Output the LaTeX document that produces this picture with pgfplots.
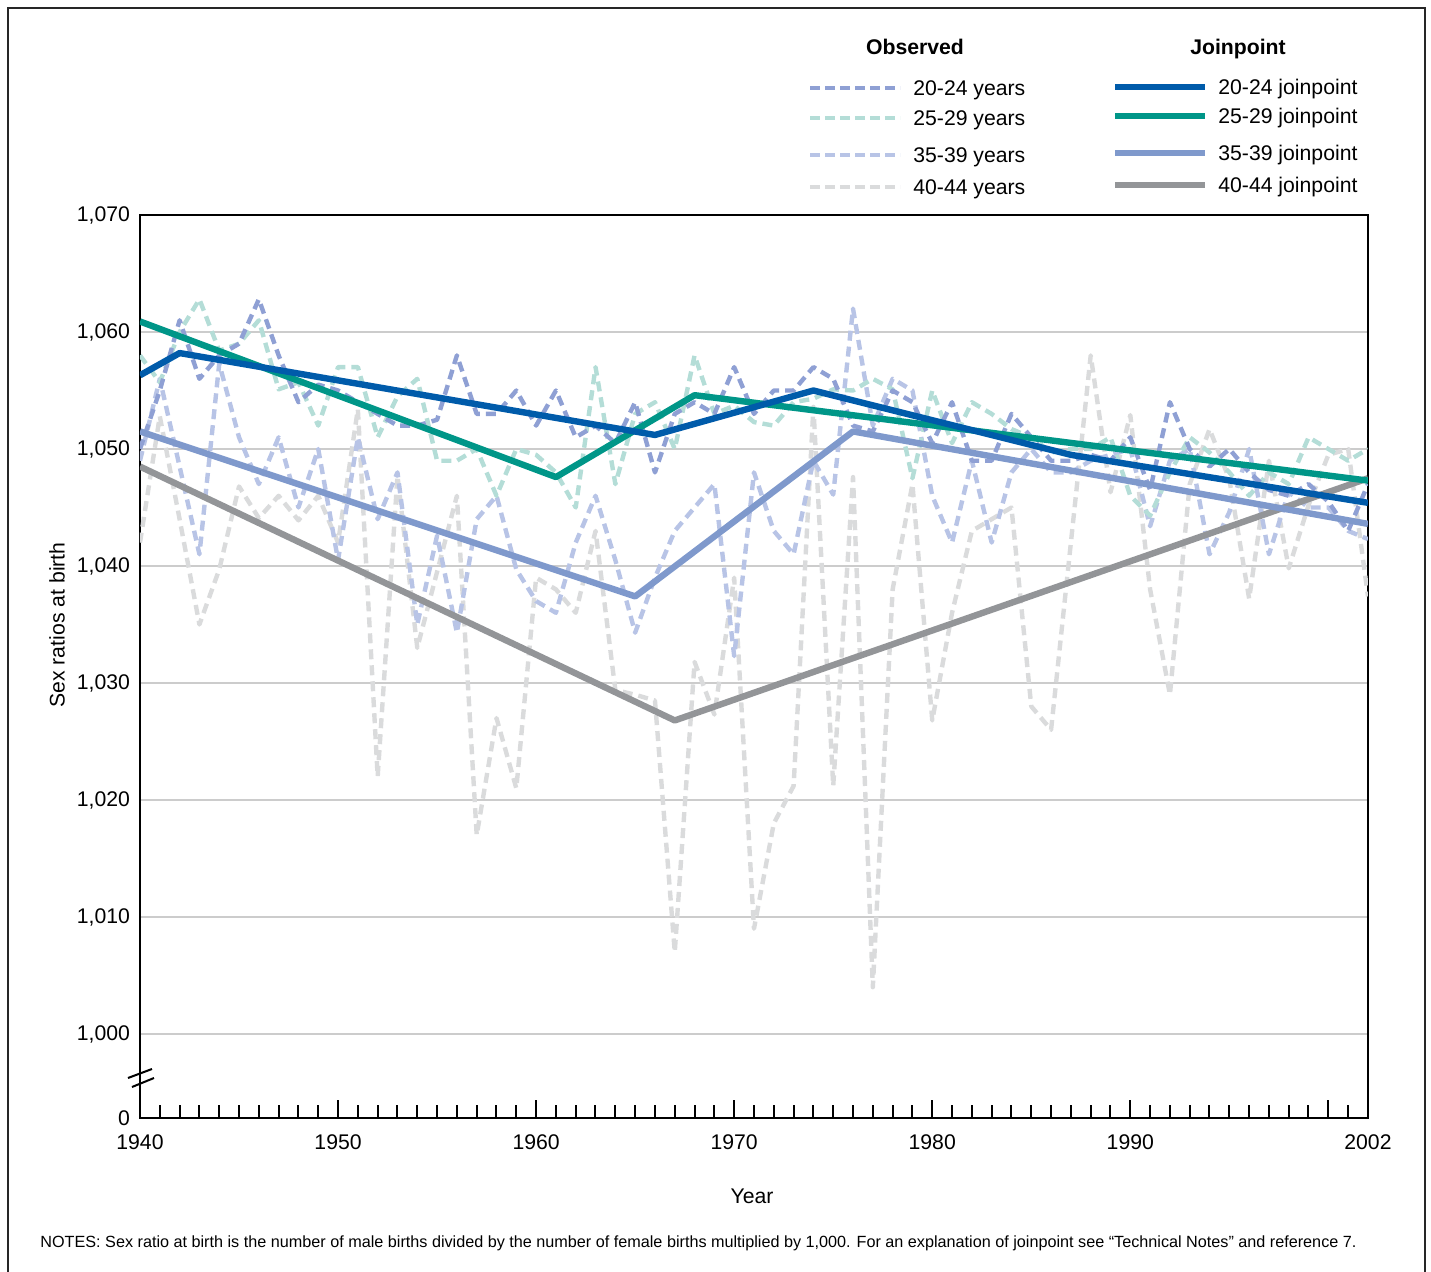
\documentclass[border=0pt]{standalone}
\usepackage{pgfplots}
\pgfplotsset{compat=1.18}
\usepackage{fontspec}
\setmainfont{Liberation Sans}
\definecolor{jA}{RGB}{0,91,170}
\definecolor{jB}{RGB}{0,150,136}
\definecolor{jC}{RGB}{127,153,204}
\definecolor{jD}{RGB}{147,149,152}
\definecolor{oA}{RGB}{143,160,212}
\definecolor{oB}{RGB}{180,221,215}
\definecolor{oC}{RGB}{184,196,230}
\definecolor{oD}{RGB}{218,219,220}
\begin{document}
\begin{tikzpicture}[font=\fontsize{10.6}{12.7}\selectfont]
\useasboundingbox (-70pt,-76.5pt) rectangle (645.5pt,559pt);
\draw[line width=0.8pt, black!85] (-66pt,-90pt) -- (-66pt,555pt) -- (642.5pt,555pt) -- (642.5pt,-90pt);
\begin{axis}[
  scale only axis, width=614pt, height=451.5pt,
  xmin=1940, xmax=2002, ymin=992.82, ymax=1070,
  axis line style={line width=1.2pt, black},
  xtick={1940,1950,1960,1970,1980,1990,2000,2002},
  xticklabels={1940,1950,1960,1970,1980,1990,,2002},
  minor xtick={1941,1942,...,2001},
  xtick pos=left, ytick pos=left,
  tick align=inside,
  major tick length=9pt, minor tick length=6.5pt,
  every tick/.style={black, line width=1pt},
  ytick={1000,1010,...,1070},
  y tick style={draw=none},
  extra y ticks={992.82}, extra y tick labels={0},
  extra y tick style={grid=none, y tick style={draw=none}},
  ymajorgrids, grid style={line width=0.6pt, black!20},
  /pgf/number format/assume math mode=true,
  /pgf/number format/1000 sep={,},
  yticklabel style={xshift=-1.5pt},
  xticklabel style={yshift=-4.7pt},
  every axis plot/.append style={line join=round},
]
% observed 40-44
\addplot[oD, line width=2.2pt, dash pattern=on 5pt off 3pt] coordinates {
(1940,1042)(1941,1052.8)(1942,1044)(1943,1035)(1944,1039.7)(1945,1046.8)(1946,1044.1)(1947,1046)(1948,1043.9)(1949,1046)(1950,1042)(1951,1053.4)(1952,1022)(1953,1047.7)(1954,1033)(1955,1039.5)(1956,1046)(1957,1017)(1958,1027)(1959,1021)(1960,1039)(1961,1038)(1962,1036)(1963,1043)(1964,1029.4)(1965,1029)(1966,1028.5)(1967,1007)(1968,1031.8)(1969,1027.3)(1970,1039)(1971,1009)(1972,1018)(1973,1021.2)(1974,1053.6)(1975,1021.2)(1976,1047.6)(1977,1004)(1978,1038)(1979,1047)(1980,1026.8)(1981,1036)(1982,1043)(1983,1044)(1984,1045)(1985,1028)(1986,1026)(1987,1042)(1988,1058)(1989,1046.3)(1990,1052.9)(1991,1038)(1992,1029)(1993,1047)(1994,1051.7)(1995,1047.4)(1996,1037.2)(1997,1049)(1998,1039.8)(1999,1045.2)(2000,1049.5)(2001,1050)(2002,1037.4)};
% observed 35-39
\addplot[oC, line width=2.2pt, dash pattern=on 5pt off 3pt] coordinates {
(1940,1049)(1941,1056)(1942,1048.5)(1943,1041)(1944,1057.3)(1945,1051)(1946,1047)(1947,1051)(1948,1045)(1949,1050)(1950,1040.5)(1951,1051)(1952,1044)(1953,1048)(1954,1035)(1955,1042.6)(1956,1034.3)(1957,1044)(1958,1046)(1959,1039.7)(1960,1037)(1961,1036)(1962,1042)(1963,1046)(1964,1040.5)(1965,1034.3)(1966,1039)(1967,1043)(1968,1045)(1969,1047)(1970,1032.3)(1971,1048)(1972,1043)(1973,1041)(1974,1049)(1975,1046.1)(1976,1062)(1977,1052)(1978,1056)(1979,1055)(1980,1046)(1981,1042)(1982,1049)(1983,1042)(1984,1048)(1985,1050)(1986,1048)(1987,1048)(1988,1049)(1989,1049.5)(1990,1050)(1991,1043.4)(1992,1049)(1993,1050)(1994,1041)(1995,1044.6)(1996,1050)(1997,1041)(1998,1046.3)(1999,1045)(2000,1045)(2001,1043)(2002,1042.3)};
% observed 25-29
\addplot[oB, line width=2.2pt, dash pattern=on 5pt off 3pt] coordinates {
(1940,1058)(1941,1055.7)(1942,1060)(1943,1062.8)(1944,1058.4)(1945,1059)(1946,1061)(1947,1055.1)(1948,1055.7)(1949,1052)(1950,1057)(1951,1057)(1952,1051)(1953,1054.5)(1954,1056)(1955,1049)(1956,1049)(1957,1050)(1958,1046)(1959,1050)(1960,1049.5)(1961,1048)(1962,1045)(1963,1057)(1964,1047)(1965,1053)(1966,1054)(1967,1050)(1968,1058)(1969,1053)(1970,1053.7)(1971,1052.3)(1972,1052)(1973,1054)(1974,1054.3)(1975,1055.1)(1976,1055)(1977,1056)(1978,1055.1)(1979,1047.5)(1980,1055)(1981,1050.5)(1982,1054)(1983,1053)(1984,1051.7)(1985,1051)(1986,1049.7)(1987,1050)(1988,1050)(1989,1051)(1990,1046)(1991,1044.3)(1992,1048)(1993,1051)(1994,1049.7)(1995,1048)(1996,1046)(1997,1048)(1998,1047)(1999,1051)(2000,1050)(2001,1049)(2002,1050)};
% observed 20-24
\addplot[oA, line width=2.2pt, dash pattern=on 5pt off 3pt] coordinates {
(1940,1050)(1941,1055)(1942,1061)(1943,1056)(1944,1058)(1945,1059)(1946,1062.8)(1947,1058)(1948,1054)(1949,1055.5)(1950,1055)(1951,1054)(1952,1053)(1953,1052)(1954,1052)(1955,1052.5)(1956,1058)(1957,1053)(1958,1053)(1959,1055)(1960,1052)(1961,1055)(1962,1051)(1963,1052)(1964,1050.5)(1965,1054)(1966,1048)(1967,1053)(1968,1054)(1969,1053)(1970,1057)(1971,1053)(1972,1055)(1973,1055)(1974,1057)(1975,1056)(1976,1052)(1977,1051.5)(1978,1055)(1979,1054)(1980,1050.5)(1981,1054)(1982,1049)(1983,1049)(1984,1053)(1985,1051)(1986,1049)(1987,1049)(1988,1049.5)(1989,1049)(1990,1051)(1991,1046.5)(1992,1054)(1993,1050)(1994,1048.5)(1995,1050)(1996,1048)(1997,1046.5)(1998,1046)(1999,1047)(2000,1045.5)(2001,1043)(2002,1047)};
% joinpoints
\addplot[jD, line width=3.2pt] coordinates {(1940,1048.5)(1967,1026.8)(2002,1047.5)};
\addplot[jC, line width=3.2pt] coordinates {(1940,1051.5)(1965,1037.4)(1976,1051.5)(2002,1043.6)};
\addplot[jB, line width=3.2pt] coordinates {(1940,1060.9)(1961,1047.6)(1968,1054.6)(2002,1047.3)};
\addplot[jA, line width=3.2pt] coordinates {(1940,1056.3)(1942,1058.2)(1966,1051.2)(1974,1055.0)(1987,1049.5)(2002,1045.4)};
\end{axis}
% axis break
\draw[line width=1pt] (-6pt,20pt) -- (6pt,24.5pt);
\draw[line width=1pt] (-4pt,15.5pt) -- (7pt,20pt);
% labels
\node[rotate=90] at (-41.5pt,246.5pt) {Sex ratios at birth};
\node at (306pt,-39pt) {Year};
\node[anchor=base west, inner sep=0pt, font=\fontsize{8.1}{9.7}\selectfont] at (-50pt,-64.5pt) {NOTES: Sex ratio at birth is the number of male births divided by the number of female births multiplied by 1,000. For an explanation of joinpoint see “Technical Notes” and reference 7.};
% legend
\node[font=\fontsize{10.6}{12.7}\selectfont\bfseries] at (387.5pt,535.5pt) {Observed};
\node[font=\fontsize{10.6}{12.7}\selectfont\bfseries] at (549pt,534.5pt) {Joinpoint};
\foreach \yy/\cc/\tt in {515/oA/20-24, 500/oB/25-29, 481.5/oC/35-39, 465.5/oD/40-44}{
  \draw[\cc, line width=2.4pt, dash pattern=on 5pt off 2.5pt] (335pt,\yy pt) -- (380pt,\yy pt);
  \node[anchor=base west, inner sep=0pt] at (386.5pt,\yy pt-3.8pt) {\tt\ years};
}
\foreach \yy/\cc/\tt in {515.5/jA/20-24, 501/jB/25-29, 482.5/jC/35-39, 466.5/jD/40-44}{
  \draw[\cc, line width=3pt] (487.5pt,\yy pt) -- (532.5pt,\yy pt);
  \node[anchor=base west, inner sep=0pt] at (539pt,\yy pt-3.8pt) {\tt\ joinpoint};
}
\end{tikzpicture}
\end{document}
